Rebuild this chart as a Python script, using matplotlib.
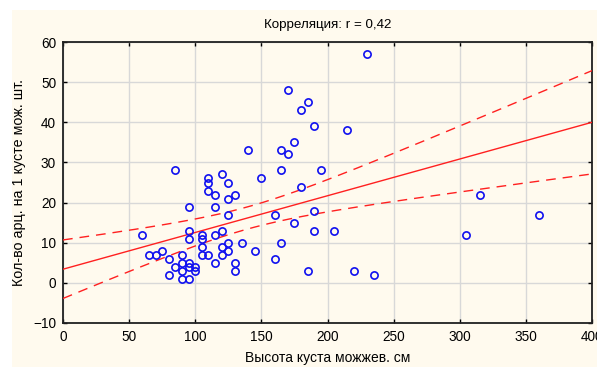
import numpy as np
import matplotlib
matplotlib.use("Agg")
import matplotlib.pyplot as plt
from matplotlib.patches import Rectangle
from matplotlib import font_manager

names = {f.name for f in font_manager.fontManager.ttflist}
narrow = 'Liberation Sans Narrow' if 'Liberation Sans Narrow' in names else 'Liberation Sans'
plt.rcParams['font.family'] = ['Liberation Sans', 'DejaVu Sans']

# Bush height (cm) and number of arceuthobium shoots per bush
height = [60, 65, 70, 75, 80, 80, 85, 85, 90, 90, 90, 90,
          95, 95, 95, 95, 95, 95, 100, 100, 105, 105, 105, 105,
          110, 110, 110, 110, 115, 115, 115, 115, 120, 120, 120, 120,
          125, 125, 125, 125, 125, 130, 130, 130, 135, 140, 145, 150,
          160, 160, 165, 165, 165, 170, 170, 175, 175, 180, 180, 185,
          185, 190, 190, 190, 195, 205, 215, 220, 230, 235, 305, 315, 360]
count = [12, 7, 7, 8, 6, 2, 28, 4, 7, 5, 3, 1,
         19, 13, 11, 5, 4, 1, 4, 3, 12, 11, 9, 7,
         26, 25, 23, 7, 22, 19, 12, 5, 27, 13, 9, 7,
         25, 21, 17, 10, 8, 22, 5, 3, 10, 33, 8, 26,
         17, 6, 33, 28, 10, 48, 32, 35, 15, 43, 24, 45,
         3, 39, 18, 13, 28, 13, 38, 3, 57, 2, 12, 22, 17]

# Regression line coefficients as printed by the fitting routine
fit_intercept = 3.4
fit_slope = 0.0915

x_ticks = [0, 50, 100, 150, 200, 250, 300, 350, 400]
x_tick_labels = ['0', '50', '100', '150', '200', '250', '300', '350', '400']
y_ticks = [-10, 0, 10, 20, 30, 40, 50, 60]

title = "Корреляция: r = 0,42"
x_label = "Высота куста можжев. см"
y_label = "Кол-во арц. на 1 кусте мож. шт."

x = np.asarray(height, float)
y = np.asarray(count, float)
n = len(x)

# 95% confidence band for the mean around the regression line
resid = y - (fit_slope * x + fit_intercept)
s = np.sqrt(np.sum(resid ** 2) / (n - 2))
sxx = np.sum((x - x.mean()) ** 2)
t = 1.994
xs = np.linspace(0, 400, 200)
fit = fit_slope * xs + fit_intercept
half = t * s * np.sqrt(1.0 / n + (xs - x.mean()) ** 2 / sxx)

cream = '#FFFAEE'
fig = plt.figure(figsize=(5.97, 3.67), dpi=100, facecolor='white')
fig.patches.append(Rectangle((12 / 597, 0), 1 - 12 / 597, 1 - 10 / 367,
                             transform=fig.transFigure, facecolor=cream,
                             edgecolor='none', zorder=-10))
ax = fig.add_axes([63 / 597, 1 - 323 / 367, (592 - 63) / 597, (323 - 42) / 367])
ax.set_facecolor(cream)

ax.plot(xs, fit, color='#FF2020', lw=1.0, zorder=3)
ax.plot(xs, fit + half, color='#FF2020', lw=1.0, dashes=(7, 5), zorder=3)
ax.plot(xs, fit - half, color='#FF2020', lw=1.0, dashes=(7, 5), zorder=3)
ax.plot(x, y, linestyle='none', marker='o', markersize=5.2,
        markerfacecolor='none', markeredgecolor='#1010F0',
        markeredgewidth=1.2, zorder=4)

ax.set_xlim(0, 400)
ax.set_ylim(-10, 60)
ax.set_xticks(x_ticks)
ax.set_xticklabels(x_tick_labels)
ax.set_yticks(y_ticks)
ax.grid(True, color='#D8D8D8', lw=1.0, zorder=0)
ax.set_axisbelow(True)
ax.tick_params(direction='in', length=3, width=1, top=True, right=True,
               colors='black', pad=5)
for lab in ax.get_xticklabels() + ax.get_yticklabels():
    lab.set_family([narrow, 'DejaVu Sans'])
    lab.set_fontsize(9.8)
for sp in ax.spines.values():
    sp.set_linewidth(1.3)
    sp.set_color('#202020')

ax.set_title(title, fontsize=9.6, pad=10)
ax.set_xlabel(x_label, fontsize=10, labelpad=5)
ax.set_ylabel(y_label, fontsize=10.3, labelpad=5)

fig.savefig('out.png', dpi=100, facecolor='white')
